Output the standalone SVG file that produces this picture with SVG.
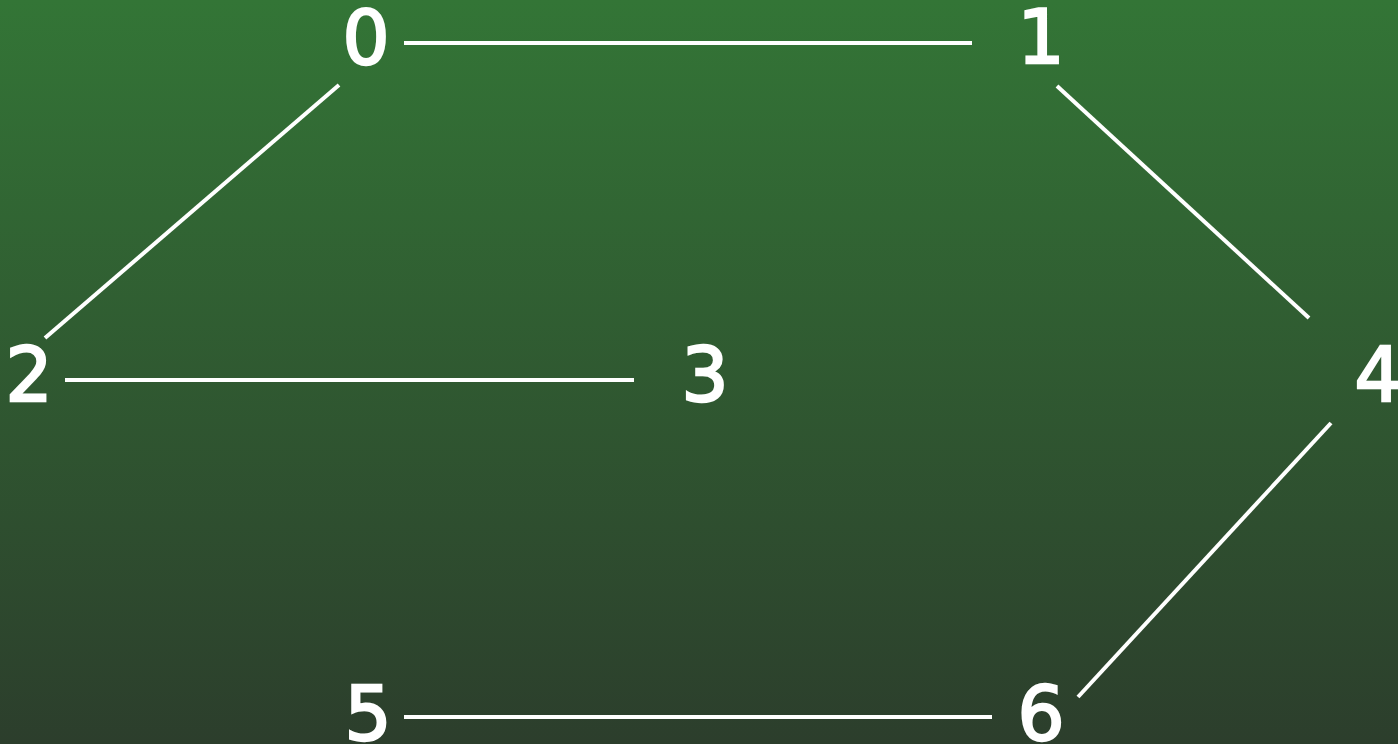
<svg xmlns="http://www.w3.org/2000/svg" width="1398" height="744" viewBox="0 0 1398 744">
<defs>
<linearGradient id="bg" x1="0" y1="0" x2="0" y2="1">
<stop offset="0" stop-color="#337536"/>
<stop offset="1" stop-color="#2c3e2c"/>
</linearGradient>
<style>
.lbl{font-family:"DejaVu Sans",sans-serif;font-weight:normal;font-size:74px;fill:#ffffff;stroke:#ffffff;stroke-width:2.4;text-anchor:middle}
.e{stroke:#ffffff;stroke-width:4;fill:none}
</style>
</defs>
<rect width="1398" height="744" fill="url(#bg)"/>
<g id="connectors">
<line class="e" x1="404" y1="43" x2="972" y2="43"/>
<line class="e" x1="339" y1="85" x2="45" y2="338"/>
<line class="e" x1="65" y1="380" x2="634" y2="380"/>
<line class="e" x1="1057" y1="86" x2="1309" y2="318"/>
<line class="e" x1="1331" y1="423" x2="1078" y2="697"/>
<line class="e" x1="404" y1="717" x2="992" y2="717"/>
</g>
<g id="n0"><text class="lbl" x="366" y="64">0</text></g>
<g id="n1"><text class="lbl" x="1041" y="63">1</text></g>
<g id="n2"><text class="lbl" x="29" y="401">2</text></g>
<g id="n3"><text class="lbl" x="705" y="401">3</text></g>
<g id="n4"><text class="lbl" x="1378" y="401">4</text></g>
<g id="n5"><text class="lbl" x="368" y="740">5</text></g>
<g id="n6"><text class="lbl" x="1041" y="740">6</text></g>
</svg>
